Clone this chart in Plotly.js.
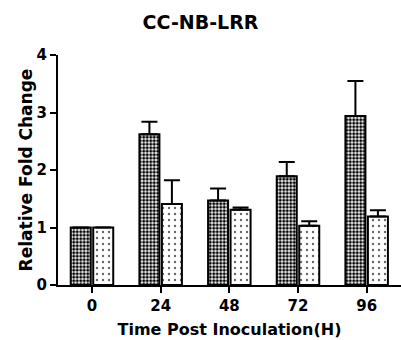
<!DOCTYPE html>
<html>
<head>
<meta charset="utf-8">
<script src="https://cdn.plot.ly/plotly-3.0.1.min.js"></script>
<style>html,body{margin:0;padding:0;background:#fff;}#chart{width:401px;height:340px;}</style>
</head>
<body>
<div id="chart"></div>
<script>
const categories = ["0", "24", "48", "72", "96"];
const seriesA = [1.0, 2.62, 1.47, 1.89, 2.94];
const seriesAErr = [0.0, 0.22, 0.21, 0.25, 0.61];
const seriesB = [1.0, 1.41, 1.31, 1.03, 1.19];
const seriesBErr = [0.0, 0.41, 0.04, 0.08, 0.11];
const yTicks = [0, 1, 2, 3, 4];

const bold = {family: "DejaVu Sans, Arial, sans-serif", color: "#000", weight: "bold"};

const traces = [
  {
    type: "bar", x: categories, y: seriesA, name: "A",
    marker: {color: "#fff", line: {color: "#000", width: 2},
      pattern: {shape: ".", fgcolor: "#000", bgcolor: "#fff", size: 3.5, solidity: 0.6}},
    error_y: {type: "data", symmetric: false, array: seriesAErr, arrayminus: seriesAErr.map(() => 0),
      color: "#000", thickness: 2, width: 8}
  },
  {
    type: "bar", x: categories, y: seriesB, name: "B",
    marker: {color: "#fff", line: {color: "#000", width: 2},
      pattern: {shape: ".", fgcolor: "#666", bgcolor: "#fff", size: 6, solidity: 0.12}},
    error_y: {type: "data", symmetric: false, array: seriesBErr, arrayminus: seriesBErr.map(() => 0),
      color: "#000", thickness: 2, width: 8}
  }
];

const layout = {
  width: 401, height: 340,
  margin: {l: 58, r: 0, t: 55, b: 55},
  paper_bgcolor: "#fff", plot_bgcolor: "#fff",
  showlegend: false,
  barmode: "group", bargap: 0.345, bargroupgap: 0.11,
  title: {text: "CC-NB-LRR", x: 0.5, xanchor: "center", y: 0.935, yanchor: "middle",
    font: Object.assign({}, bold, {size: 19})},
  xaxis: {
    type: "category", range: [-0.495, 4.5],
    showline: true, linecolor: "#000", linewidth: 2,
    ticks: "outside", ticklen: 6, tickwidth: 2, tickcolor: "#000",
    showgrid: false, zeroline: false,
    tickfont: Object.assign({}, bold, {size: 15}),
    title: {text: "Time Post Inoculation(H)", font: Object.assign({}, bold, {size: 16}), standoff: 10}
  },
  yaxis: {
    range: [0, 4], tickvals: yTicks, ticktext: yTicks.map(String),
    showline: true, linecolor: "#000", linewidth: 2,
    ticks: "outside", ticklen: 6, tickwidth: 2, tickcolor: "#000",
    showgrid: false, zeroline: false,
    tickfont: Object.assign({}, bold, {size: 15}),
    title: {text: "Relative Fold Change", font: Object.assign({}, bold, {size: 17}), standoff: 0}
  }
};

Plotly.newPlot("chart", traces, layout, {displayModeBar: false, staticPlot: true});
</script>
</body>
</html>
